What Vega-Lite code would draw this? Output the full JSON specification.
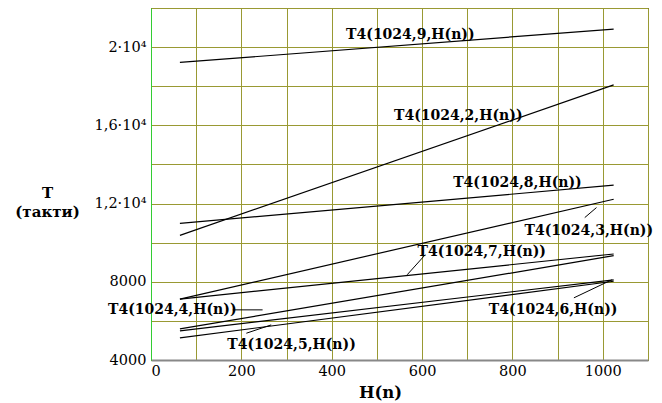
{
  "$schema": "https://vega.github.io/schema/vega-lite/v6.json",
  "autosize": "none",
  "width": 497,
  "height": 352,
  "padding": {"left": 151, "top": 8, "right": 14, "bottom": 43},
  "background": "white",
  "config": {
    "view": {"stroke": "#000000", "strokeWidth": 1},
    "font": "DejaVu Serif"
  },
  "datasets": {
    "lines": [
      {"series": "9", "H": 64, "T": 19215}, {"series": "9", "H": 1024, "T": 20923},
      {"series": "2", "H": 64, "T": 10375}, {"series": "2", "H": 1024, "T": 18067},
      {"series": "8", "H": 64, "T": 10990}, {"series": "8", "H": 1024, "T": 12939},
      {"series": "3", "H": 64, "T": 7113}, {"series": "3", "H": 1024, "T": 12220},
      {"series": "7", "H": 64, "T": 7113}, {"series": "7", "H": 1024, "T": 9420},
      {"series": "4", "H": 64, "T": 5590}, {"series": "4", "H": 1024, "T": 9333},
      {"series": "6", "H": 64, "T": 5487}, {"series": "6", "H": 1024, "T": 8102},
      {"series": "5", "H": 64, "T": 5128}, {"series": "5", "H": 1024, "T": 8026}
    ],
    "labels": [
      {"text": "T4(1024,9,H(n))", "H": 574, "T": 20615},
      {"text": "T4(1024,2,H(n))", "H": 680, "T": 16477},
      {"text": "T4(1024,8,H(n))", "H": 811, "T": 13061},
      {"text": "T4(1024,3,H(n))", "H": 969, "T": 10580},
      {"text": "T4(1024,7,H(n))", "H": 732, "T": 9502},
      {"text": "T4(1024,6,H(n))", "H": 890, "T": 6564},
      {"text": "T4(1024,4,H(n))", "H": 47, "T": 6564},
      {"text": "T4(1024,5,H(n))", "H": 311, "T": 4769}
    ],
    "leaders": [
      {"H": 960, "T": 11282, "H2": 986, "T2": 11795},
      {"H": 567, "T": 8359, "H2": 607, "T2": 9384},
      {"H": 936, "T": 7179, "H2": 1020, "T2": 8102},
      {"H": 181, "T": 6564, "H2": 247, "T2": 6564},
      {"H": 211, "T": 5369, "H2": 266, "T2": 5795}
    ]
  },
  "encoding": {
    "x": {
      "field": "H", "type": "quantitative",
      "scale": {"domain": [0, 1100], "nice": false, "zero": false},
      "axis": {
        "values": [0, 100, 200, 300, 400, 500, 600, 700, 800, 900, 1000, 1100],
        "format": "d",
        "labelExpr": "datum.value % 200 == 0 && datum.value <= 1000 ? datum.label : ''",
        "grid": true, "gridColor": "#999933", "gridOpacity": 1, "gridWidth": 1,
        "ticks": false, "labelPadding": 4,
        "labelFont": "DejaVu Serif", "labelFontSize": 14.5, "labelColor": "#000000",
        "domainColor": "#888888", "domainWidth": 2,
        "title": "H(n)", "titleFont": "DejaVu Serif", "titleFontSize": 16.5,
        "titleFontWeight": "bold", "titleColor": "#000000",
        "titleX": 229, "titleY": 37, "titleBaseline": "alphabetic", "titleAlign": "center"
      }
    },
    "y": {
      "field": "T", "type": "quantitative",
      "scale": {"domain": [4000, 22000], "nice": false, "zero": false},
      "axis": {
        "values": [4000, 6000, 8000, 10000, 12000, 14000, 16000, 18000, 20000, 22000],
        "labelExpr": "datum.value == 4000 ? '4000' : datum.value == 8000 ? '8000' : datum.value == 12000 ? '1,2·10⁴' : datum.value == 16000 ? '1,6·10⁴' : datum.value == 20000 ? '2·10⁴' : ''",
        "grid": true, "gridColor": "#999933", "gridOpacity": 1, "gridWidth": 1,
        "ticks": false, "labelPadding": 5,
        "labelFont": "DejaVu Serif", "labelFontSize": 14.5, "labelColor": "#000000",
        "domainColor": "#33cc33", "domainWidth": 1,
        "title": ["T", "(такти)"], "titleFont": "DejaVu Serif", "titleFontSize": 15,
        "titleFontWeight": "bold", "titleColor": "#000000", "titleAngle": 0,
        "titleX": -104, "titleY": 189, "titleAlign": "center", "titleBaseline": "alphabetic",
        "titleLineHeight": 19
      }
    }
  },
  "layer": [
    {
      "data": {"name": "lines"},
      "mark": {"type": "line", "color": "#000000", "strokeWidth": 1.2},
      "encoding": {"detail": {"field": "series"}}
    },
    {
      "data": {"name": "leaders"},
      "mark": {"type": "rule", "color": "#000000", "strokeWidth": 1},
      "encoding": {
        "x2": {"field": "H2"},
        "y2": {"field": "T2"}
      }
    },
    {
      "data": {"name": "labels"},
      "mark": {"type": "text", "font": "DejaVu Serif", "fontSize": 14, "fontWeight": "bold", "color": "#000000", "align": "center", "baseline": "middle"},
      "encoding": {"text": {"field": "text"}}
    }
  ]
}
